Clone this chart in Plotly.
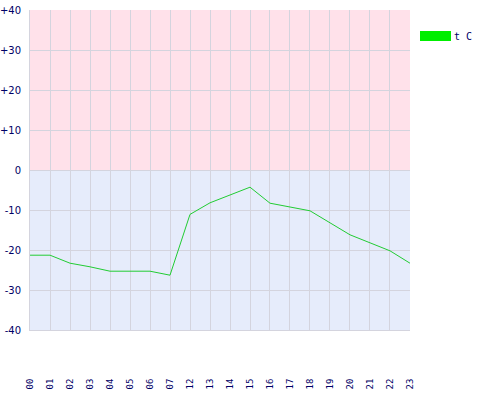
import plotly.graph_objects as go

hours = ["00","01","02","03","04","05","06","07","12","13","14","15","16","17","18","19","20","21","22","23"]
temps = [-21.3,-21.3,-23.3,-24.2,-25.3,-25.3,-25.3,-26.3,-11.1,-8.2,-6.2,-4.3,-8.3,-9.2,-10.2,-13.2,-16.2,-18.2,-20.2,-23.3]
y_ticks = [40,30,20,10,0,-10,-20,-30,-40]
y_labels = ["+40","+30","+20","+10","0","-10","-20","-30","-40"]
series_name = "t C"

fig = go.Figure()
fig.add_trace(go.Scatter(x=hours, y=temps, mode="lines", line=dict(color="#22cc33", width=1),
                         name=series_name, showlegend=False))

fig.add_shape(type="rect", xref="paper", yref="y", x0=0, x1=1, y0=0, y1=40,
              fillcolor="#ffe1ea", line_width=0, layer="below")
fig.add_shape(type="rect", xref="paper", yref="y", x0=0, x1=1, y0=-40, y1=0,
              fillcolor="#e6ecfb", line_width=0, layer="below")

# legend
fig.add_shape(type="rect", xref="paper", yref="paper", x0=(420-30)/380, x1=(451-30)/380,
              y0=(330-41)/320, y1=(330-31)/320, fillcolor="#00ee00", line_width=0)
fig.add_annotation(xref="paper", yref="paper", x=(452-30)/380, y=(330-36)/320, text="t\u00a0C",
                   showarrow=False, xanchor="left", yanchor="middle",
                   font=dict(family="DejaVu Sans Mono", size=10, color="#000066"))

fig.update_layout(
    width=480, height=400,
    margin=dict(l=30, r=70, t=10, b=70, autoexpand=False),
    paper_bgcolor="white", plot_bgcolor="rgba(0,0,0,0)",
    showlegend=False,
)
fig.update_xaxes(type="category", range=[-0.001, len(hours)-1+0.001], showgrid=True, gridcolor="#d4d4de",
                 gridwidth=1, tickangle=-90, tickfont=dict(family="DejaVu Sans Mono", size=9, color="#000066"),
                 ticks="", showline=True, linecolor="#d4d4de", ticklabelstandoff=44, zeroline=False,
                 automargin=False)
fig.update_yaxes(range=[-40, 40], tickvals=y_ticks, ticktext=y_labels, showgrid=True, gridcolor="#d4d4de",
                 tickfont=dict(family="DejaVu Sans", size=10, color="#000066"), ticks="",
                 showline=True, linecolor="#d4d4de", zeroline=False, ticklabelstandoff=6,
                 automargin=False)

fig.write_html("out.html", config={"displayModeBar": False},
               post_script="document.body.style.margin='0';document.body.style.overflow='hidden';")
